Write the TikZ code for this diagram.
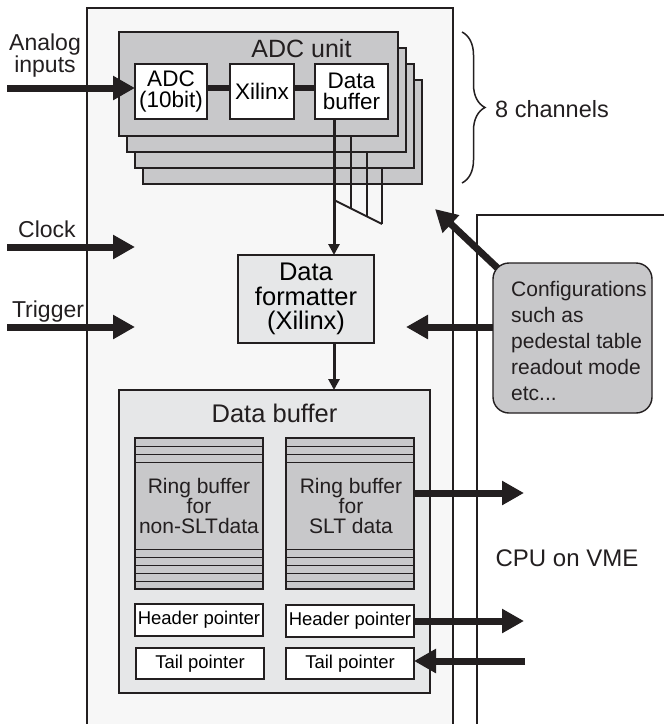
\documentclass[tikz,border=0pt]{standalone}
\usepackage{fontspec}
\setmainfont{Liberation Sans}
\usetikzlibrary{arrows.meta,decorations.pathreplacing,calc}
\definecolor{ink}{HTML}{231F20}
\definecolor{bgbox}{HTML}{F7F7F7}
\definecolor{unitgray}{HTML}{C8C8CA}
\definecolor{lightbox}{HTML}{E6E7E8}
\begin{document}
\begin{tikzpicture}[x=1pt,y=-1pt,
  box/.style={draw=ink, line width=1.4pt, inner sep=0pt, outer sep=0pt},
  unitbox/.style={box, fill=unitgray, minimum width=279pt, minimum height=104pt, anchor=north west},
  whitebox/.style={box, fill=white},
  bigarrow/.style={draw=ink, line width=7pt, -{Triangle[length=22pt,width=23pt]}},
  thinarrow/.style={draw=ink, line width=3pt, -{Triangle[length=11pt,width=11pt]}},
  fanline/.style={draw=ink, line width=2pt},
  stripe/.style={draw=ink, line width=1pt},
  lbl/.style={inner sep=0pt, text=ink}
]
\useasboundingbox (0,0) rectangle (664,724);

% frames
\node[box, fill=bgbox, minimum width=366pt, minimum height=730pt, anchor=north west] (main) at (87,8) {};
\node[box, fill=white, minimum width=220pt, minimum height=530pt, anchor=north west] (cpu) at (477,215) {};

% ADC unit stack
\node[unitbox] (u4) at (143,80) {};
\node[unitbox] (u3) at (135,64) {};
\node[unitbox] (u2) at (127,48) {};
\node[unitbox] (u1) at (119,32) {};
\node[lbl, anchor=base, font=\fontsize{25}{25}\selectfont] (unitlbl) at (301.5,57) {ADC unit};

\node[whitebox, minimum width=72pt, minimum height=55pt, align=center,
  font=\fontsize{22.5}{21}\selectfont] (adc) at (171,91.5) {ADC\\(10bit)};
\node[whitebox, minimum width=64pt, minimum height=55pt,
  font=\fontsize{22.5}{21}\selectfont] (xil) at (262,91.5) {Xilinx};
\node[whitebox, minimum width=73pt, minimum height=55pt, align=center,
  font=\fontsize{22.5}{21}\selectfont] (dbA) at (351.5,91.5) {Data\\buffer};

\draw[ink, line width=6pt] ($(adc.east)+(0,-3.5)$) -- ($(xil.west)+(0,-3.5)$);
\draw[ink, line width=6pt] ($(xil.east)+(0,-3.5)$) -- ($(dbA.west)+(0,-3.5)$);

% formatter
\node[box, fill=lightbox, minimum width=136pt, minimum height=88pt, align=center,
  font=\fontsize{25.5}{24.5}\selectfont] (fmt) at (306,299) {Data\\formatter\\(Xilinx)};

% fan of channel lines
\coordinate (vx) at (334,0);
\coordinate (f1) at (351,208.5);
\coordinate (f2) at (367,216.5);
\coordinate (f3) at (382,224);
\coordinate (fd) at (334,200);
\draw[fanline] (u1.south -| f1) -- (f1);
\draw[fanline] (u2.south -| f2) -- (f2);
\draw[fanline] (u3.south -| f3) -- (f3);
\draw[fanline] (fd) -- (f3);
\draw[thinarrow] (dbA.south -| vx) -- (fmt.north -| vx);

% data buffer
\node[box, fill=lightbox, minimum width=311pt, minimum height=303pt, anchor=north west] (dbuf) at (119,390) {};
\draw[thinarrow] (fmt.south -| vx) -- (dbuf.north -| vx);
\node[lbl, anchor=base, font=\fontsize{25.5}{25}\selectfont] (dbuflbl) at (274.5,422) {Data buffer};

\foreach \n/\cx in {rL/199, rR/350}{
  \node[box, fill=unitgray, minimum width=128pt, minimum height=151pt] (\n) at (\cx,513.5) {};
  \foreach \yy in {446,454,462,549,557,565,573,581}
    \draw[stripe] (\n.west |- 0,\yy) -- (\n.east |- 0,\yy);
}
\node[lbl, align=center, font=\fontsize{21}{20}\selectfont] (rLt) at (199,506) {Ring buffer\\for\\non-SLTdata};
\node[lbl, align=center, font=\fontsize{21}{20}\selectfont] (rRt) at (351,506) {Ring buffer\\for\\SLT data};

\node[whitebox, minimum width=128pt, minimum height=32pt, font=\fontsize{18.5}{18}\selectfont] (hL) at (199,620) {Header pointer};
\node[whitebox, minimum width=128pt, minimum height=32pt, font=\fontsize{18.5}{18}\selectfont] (hR) at (350,621) {Header pointer};
\node[whitebox, minimum width=128pt, minimum height=31pt, font=\fontsize{18.5}{18}\selectfont] (tL) at (200,663.5) {Tail pointer};
\node[whitebox, minimum width=128pt, minimum height=31pt, font=\fontsize{18.5}{18}\selectfont] (tR) at (350,663.5) {Tail pointer};

% outputs to CPU
\coordinate (o1) at (524,493);
\coordinate (o2) at (524,621);
\coordinate (i3) at (525,661);
\draw[bigarrow] (rR.east |- o1) -- (o1);
\draw[bigarrow] (hR.east) -- (o2);
\draw[bigarrow] (i3) -- (tR.east |- i3);

% inputs on the left
\coordinate (a1) at (7,88);
\coordinate (a2) at (7,247);
\coordinate (a2e) at (135,247);
\coordinate (a3) at (7,327);
\coordinate (a3e) at (135,327);
\draw[bigarrow] (a1) -- (adc.west |- a1);
\draw[bigarrow] (a2) -- (a2e);
\draw[bigarrow] (a3) -- (a3e);
\node[lbl, align=center, font=\fontsize{23}{22}\selectfont] (anlbl) at (45,56) {Analog\\inputs};
\node[lbl, anchor=base, font=\fontsize{23}{23}\selectfont] (cklbl) at (47,237) {Clock};
\node[lbl, anchor=base, font=\fontsize{23}{23}\selectfont] (trlbl) at (48,317) {Trigger};

% brace
\draw[ink, line width=1.5pt, decorate, decoration={brace, amplitude=23pt}] (462,32) -- (462,183);
\node[lbl, anchor=base west, font=\fontsize{23.5}{23}\selectfont] (chlbl) at (495,117) {8 channels};

% configuration
\coordinate (c1) at (406,327);
\coordinate (c2) at (435,209);
\node[inner sep=0pt, outer sep=0pt, minimum width=159pt, minimum height=150pt] (cfgpos) at (572.5,338) {};
\draw[bigarrow] ($(cfgpos.north west)+(14,14)$) -- (c2);
\draw[bigarrow] (cfgpos.west |- c1) -- (c1);
\node[box, fill=unitgray, rounded corners=16pt, minimum width=159pt, minimum height=150pt] (cfg) at (572.5,338) {};
\node[lbl, anchor=west, align=left, font=\fontsize{21}{26}\selectfont] (cfgt) at (511,341) {Configurations\\such as\\pedestal table\\readout mode\\etc...};

\node[lbl, anchor=base, font=\fontsize{24}{24}\selectfont] (cpulbl) at (567,566) {CPU on VME};
\end{tikzpicture}
\end{document}
